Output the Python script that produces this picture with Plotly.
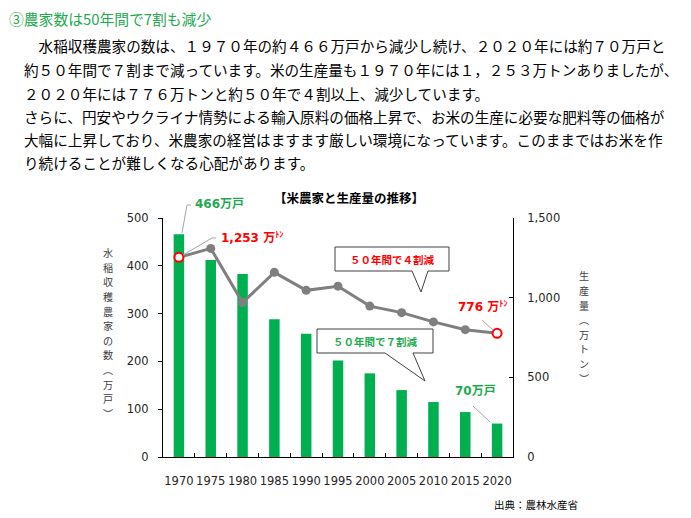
import plotly.graph_objects as go

# ---------------- data ----------------
years = ["1970", "1975", "1980", "1985", "1990", "1995", "2000", "2005", "2010", "2015", "2020"]
households = [466, 412, 383, 288, 258, 202, 175, 140, 115, 94, 70]          # 万戸
production = [1253, 1309, 969, 1159, 1046, 1072, 947, 906, 848, 799, 776]  # 万トン
left_ticks = [0, 100, 200, 300, 400, 500]
right_ticks = [0, 500, 1000, 1500]

heading = "③農家数は50年間で7割も減少"
body_lines = [
    "　水稲収穫農家の数は、１９７０年の約４６６万戸から減少し続け、２０２０年には約７０万戸と",
    "約５０年間で７割まで減っています。米の生産量も１９７０年には１，２５３万トンありましたが、",
    "２０２０年には７７６万トンと約５０年で４割以上、減少しています。",
    "さらに、円安やウクライナ情勢による輸入原料の価格上昇で、お米の生産に必要な肥料等の価格が",
    "大幅に上昇しており、米農家の経営はますます厳しい環境になっています。このままではお米を作",
    "り続けることが難しくなる心配があります。",
]
chart_title = "【米農家と生産量の推移】"
left_title = "水稲収穫農家の数︵万戸︶"
right_title = "生産量︵万トン︶"
callout_red = "５０年間で４割減"
callout_green = "５０年間で７割減"
label_start_h = "466万戸"
label_end_h = "70万戸"
label_start_p = "1,253 万<sup>ﾄﾝ</sup>"
label_end_p = "776 万<sup>ﾄﾝ</sup>"
source = "出典：農林水産省"

# ---------------- style ----------------
GREEN = "#00b050"
TGREEN = "#1faa4f"
RED = "#ff0000"
GRAY = "#7f7f7f"
LEADER = "#a6a6a6"
JP = "Noto Sans CJK JP"
NUM = "DejaVu Sans, Noto Sans CJK JP"

# The page places the figure 8px in from the top-left corner of the window.
OFF = 8
W, H = 691 - OFF, 518 - OFF
# plot-area edges in window pixels
L, R, T, B = 163, 513, 218, 457


def px(x):
    return (x - L) / (R - L)


def py(y):
    return (B - y) / (B - T)


fig = go.Figure()
fig.add_bar(x=years, y=households, marker_color=GREEN, marker_line_width=0,
            name="農家数", hoverinfo="x+y")
fig.add_scatter(x=years, y=production, yaxis="y2", mode="lines+markers",
                line=dict(color=GRAY, width=3), marker=dict(size=9, color=GRAY),
                name="生産量")
fig.add_scatter(x=[years[0], years[-1]], y=[production[0], production[-1]], yaxis="y2",
                mode="markers",
                marker=dict(size=9, color="white", line=dict(color=RED, width=2)),
                name="生産量(端点)")

ann = []


def add_text(text, x, y, size, color="#000000", family=JP, xanchor="left", yanchor="middle"):
    ann.append(dict(text=text, x=px(x), y=py(y), xref="paper", yref="paper",
                    xanchor=xanchor, yanchor=yanchor, showarrow=False,
                    font=dict(size=size, color=color, family=family)))


# heading and body text
add_text(heading, 7, 18, 14.8, color=TGREEN)
body_y = [46, 70, 93, 116, 139, 162]
for line, yy in zip(body_lines, body_y):
    add_text(line, 22, yy, 14.6, color="#000000")

# chart title
add_text("<b>" + chart_title + "</b>", 349, 197, 12.5, xanchor="center")

# vertical axis titles (upright characters stacked one under another)
STEP = 14.6
n = len(left_title)
for i, ch in enumerate(left_title):
    add_text(ch, 108, 333 + (i - (n - 1) / 2) * STEP, 10.1, color="#404040", xanchor="center")
n = len(right_title)
for i, ch in enumerate(right_title):
    add_text(ch, 584, 327 + (i - (n - 1) / 2) * STEP, 10.1, color="#404040", xanchor="center")

# data labels
add_text("<b>" + label_start_h + "</b>", 193, 204, 12, color=TGREEN, family=NUM)
add_text("<b>" + label_end_h + "</b>", 453, 391, 12, color=TGREEN, family=NUM)
add_text("<b>" + label_start_p + "</b>", 219, 237, 12, color=RED, family=NUM)
add_text("<b>" + label_end_p + "</b>", 456, 306, 12, color=RED, family=NUM)

# callout texts
add_text("<b>" + callout_red + "</b>", 392, 259, 10.5, color=RED, xanchor="center")
add_text("<b>" + callout_green + "</b>", 375, 341, 10.5, color=TGREEN, xanchor="center")

# source
add_text(source, 492, 504, 10.5, color="#000000")

shapes = []


def path(points, fill=None, color="#404040", width=1):
    d = "M " + " L ".join(f"{px(a):.5f},{py(b):.5f}" for a, b in points)
    if fill:
        d += " Z"
    shapes.append(dict(type="path", path=d, xref="paper", yref="paper",
                       line=dict(color=color, width=width),
                       fillcolor=fill if fill else "rgba(0,0,0,0)", layer="above"))


# leader lines
path([(182, 233), (187, 205), (191, 205)], color=LEADER)
path([(183, 255), (212, 238), (216, 238)], color=LEADER)
path([(482, 320), (493, 330)], color=LEADER)
path([(473, 406), (490, 422)], color=LEADER)

# callout boxes
path([(335, 247), (449, 247), (449, 271), (428, 271), (421, 292), (412, 271), (335, 271)],
     fill="white", color="#404040")
path([(317, 329), (433, 329), (433, 353), (413, 353), (425, 381), (385, 353), (317, 353)],
     fill="white", color="#404040")

axis_font = dict(size=11.5, color="#262626", family="DejaVu Sans")

fig.update_layout(
    width=W, height=H, autosize=False,
    margin=dict(l=L - OFF, r=W + OFF - R, t=T - OFF, b=H + OFF - B, pad=0),
    paper_bgcolor="white", plot_bgcolor="white",
    showlegend=False, bargap=0.67,
    annotations=ann, shapes=shapes,
    xaxis=dict(type="category", range=[-0.5, len(years) - 0.5], showline=True,
               linecolor="#000000", linewidth=1,
               ticks="inside", tickson="boundaries", ticklen=4, tickcolor="#000000",
               tickfont=axis_font, tickangle=0, ticklabelstandoff=13, showgrid=False,
               zeroline=False, automargin=False),
    yaxis=dict(range=[0, 500], tickvals=left_ticks, showline=True, linecolor="#000000",
               linewidth=1, ticks="outside", ticklen=4, tickcolor="#000000",
               tickfont=axis_font, ticklabelstandoff=7, showgrid=False, zeroline=False,
               automargin=False),
    yaxis2=dict(range=[0, 1500], tickvals=right_ticks, tickformat=",", overlaying="y",
                side="right", showline=True, linecolor="#000000", linewidth=1,
                ticks="inside", ticklen=4, tickcolor="#000000", tickfont=axis_font,
                ticklabelstandoff=11, showgrid=False, zeroline=False, automargin=False),
)

fig.write_html("out.html")
